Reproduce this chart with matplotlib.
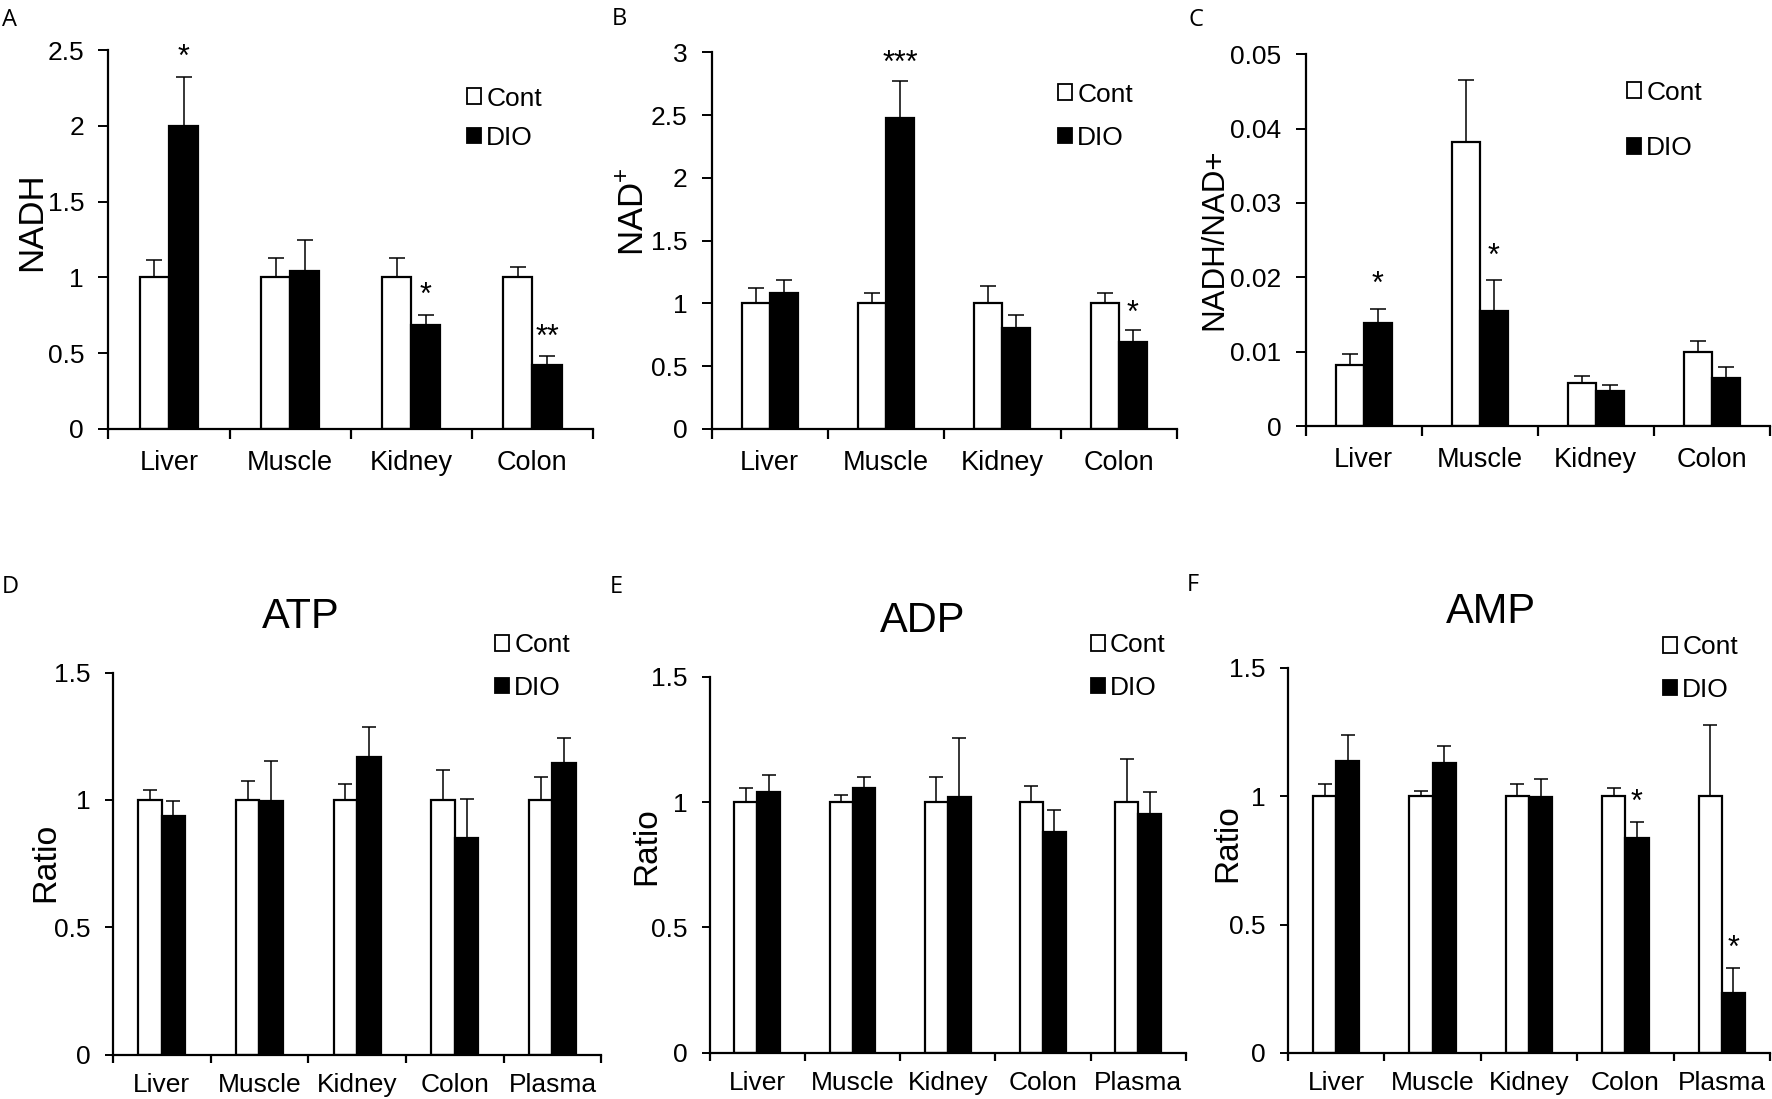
import matplotlib
matplotlib.use("Agg")
import matplotlib.pyplot as plt
from matplotlib.patches import Patch
from matplotlib.ticker import FuncFormatter, FixedLocator
import numpy as np

plt.rcParams['font.family'] = ['Liberation Sans', 'DejaVu Sans']
plt.rcParams['mathtext.fontset'] = 'custom'
plt.rcParams['mathtext.rm'] = 'Liberation Sans'
plt.rcParams['mathtext.it'] = 'Liberation Sans'

# ---------------- data ----------------
categories4 = ['Liver', 'Muscle', 'Kidney', 'Colon']
categories5 = ['Liver', 'Muscle', 'Kidney', 'Colon', 'Plasma']
series_names = ['Cont', 'DIO']

nadh_cont = [1.0, 1.0, 1.0, 1.0]
nadh_cont_err = [0.115, 0.13, 0.13, 0.07]
nadh_dio = [2.0, 1.045, 0.685, 0.42]
nadh_dio_err = [0.325, 0.20, 0.07, 0.06]
nadh_stars = ['*', '', '*', '**']

nad_cont = [1.0, 1.0, 1.0, 1.0]
nad_cont_err = [0.12, 0.08, 0.14, 0.08]
nad_dio = [1.08, 2.48, 0.805, 0.69]
nad_dio_err = [0.105, 0.295, 0.10, 0.10]
nad_stars = ['', '***', '', '*']

ratio_cont = [0.0082, 0.0382, 0.0058, 0.0100]
ratio_cont_err = [0.0015, 0.0083, 0.0009, 0.0014]
ratio_dio = [0.0138, 0.0155, 0.0047, 0.0065]
ratio_dio_err = [0.0020, 0.0041, 0.0008, 0.0014]
ratio_stars = ['*', '*', '', '']

atp_cont = [1.0, 1.0, 1.0, 1.0, 1.0]
atp_cont_err = [0.038, 0.074, 0.064, 0.117, 0.091]
atp_dio = [0.937, 0.997, 1.168, 0.852, 1.144]
atp_dio_err = [0.06, 0.155, 0.12, 0.15, 0.10]
atp_stars = ['', '', '', '', '']

adp_cont = [1.0, 1.0, 1.0, 1.0, 1.0]
adp_cont_err = [0.055, 0.028, 0.10, 0.063, 0.17]
adp_dio = [1.04, 1.056, 1.02, 0.882, 0.952]
adp_dio_err = [0.067, 0.043, 0.235, 0.086, 0.087]
adp_stars = ['', '', '', '', '']

amp_cont = [1.0, 1.0, 1.0, 1.0, 1.0]
amp_cont_err = [0.049, 0.022, 0.049, 0.031, 0.278]
amp_dio = [1.137, 1.128, 0.998, 0.837, 0.232]
amp_dio_err = [0.10, 0.067, 0.068, 0.061, 0.099]
amp_stars = ['', '', '', '*', '*']

# ---------------- layout ----------------
W, H = 1772, 1099
fig = plt.figure(figsize=(W / 100, H / 100), dpi=100)
fig.patch.set_facecolor('white')


def px_axes(left, right, top, bottom):
    return fig.add_axes([left / W, 1 - bottom / H, (right - left) / W, (bottom - top) / H])


panels = [
    dict(letter='A', letter_xy=(2, 8), box=(108.4, 593, 50, 429), cats=categories4,
         cont=nadh_cont, cerr=nadh_cont_err, dio=nadh_dio, derr=nadh_dio_err, stars=nadh_stars,
         ylim=2.5, yticks=[0, 0.5, 1, 1.5, 2, 2.5], ylabel='NADH', ylab_xy=(31.5, 222), ylab_fs=25,
         leg=(467, 99, 0.58), title=None, top=True, star_off=7.5),
    dict(letter='B', letter_xy=(612, 7), box=(711.6, 1176.8, 52.3, 429), cats=categories4,
         cont=nad_cont, cerr=nad_cont_err, dio=nad_dio, derr=nad_dio_err, stars=nad_stars,
         ylim=3.0, yticks=[0, 0.5, 1, 1.5, 2, 2.5, 3], ylabel=r'NAD$^{+}$', ylab_xy=(635, 212), ylab_fs=25,
         leg=(1058, 95, 0.74), title=None, top=True, star_off=6),
    dict(letter='C', letter_xy=(1189, 8), box=(1305.7, 1769.7, 54.3, 426), cats=categories4,
         cont=ratio_cont, cerr=ratio_cont_err, dio=ratio_dio, derr=ratio_dio_err, stars=ratio_stars,
         ylim=0.05, yticks=[0, 0.01, 0.02, 0.03, 0.04, 0.05], ylabel='NADH/NAD+', ylab_xy=(1214, 239), ylab_fs=22.5,
         leg=(1627, 93, 1.2), title=None, top=True, star_off=11),
    dict(letter='D', letter_xy=(2, 575), box=(112.9, 601.3, 672.6, 1054.7), cats=categories5,
         cont=atp_cont, cerr=atp_cont_err, dio=atp_dio, derr=atp_dio_err, stars=atp_stars,
         ylim=1.5, yticks=[0, 0.5, 1, 1.5], ylabel='Ratio', ylab_xy=(45.5, 862), ylab_fs=24.5,
         leg=(495, 646, 0.7), title=('ATP', 301), top=False, star_off=8),
    dict(letter='E', letter_xy=(610, 575), box=(709.7, 1185.7, 676.6, 1052.9), cats=categories5,
         cont=adp_cont, cerr=adp_cont_err, dio=adp_dio, derr=adp_dio_err, stars=adp_stars,
         ylim=1.5, yticks=[0, 0.5, 1, 1.5], ylabel='Ratio', ylab_xy=(647, 846), ylab_fs=24,
         leg=(1090.6, 646, 0.7), title=('ADP', 923), top=False, star_off=8),
    dict(letter='F', letter_xy=(1187, 573), box=(1288, 1770, 667.9, 1052.9), cats=categories5,
         cont=amp_cont, cerr=amp_cont_err, dio=amp_dio, derr=amp_dio_err, stars=amp_stars,
         ylim=1.5, yticks=[0, 0.5, 1, 1.5], ylabel='Ratio', ylab_xy=(1227.5, 843), ylab_fs=24,
         leg=(1663, 648, 0.7), title=('AMP', 1490.5), top=False, star_off=8),
]

bw = 0.24
for p in panels:
    left, right, top, bottom = p['box']
    ax = px_axes(left, right, top, bottom)
    n = len(p['cats'])
    x = np.arange(n)
    cap = 6 if p['top'] else 5
    ax.bar(x - bw / 2, p['cont'], bw, color='white', edgecolor='black', linewidth=1.6, zorder=2)
    ax.bar(x + bw / 2, p['dio'], bw, color='black', edgecolor='black', linewidth=1.6, zorder=2)
    zeros = np.zeros(n)
    ax.errorbar(x - bw / 2, p['cont'], yerr=[zeros, p['cerr']], fmt='none', ecolor='black',
                elinewidth=1.1, capsize=cap, capthick=1.1, zorder=3)
    ax.errorbar(x + bw / 2, p['dio'], yerr=[zeros, p['derr']], fmt='none', ecolor='black',
                elinewidth=1.1, capsize=cap, capthick=1.1, zorder=3)
    for i, s in enumerate(p['stars']):
        if s:
            ax.annotate(s, xy=(x[i] + bw / 2, p['dio'][i] + p['derr'][i]),
                        xytext=(0, p['star_off']), textcoords='offset points',
                        ha='center', va='baseline', fontsize=22, zorder=4)

    ax.set_xlim(-0.5, n - 0.5)
    ax.set_ylim(0, p['ylim'])
    for sp in ['top', 'right']:
        ax.spines[sp].set_visible(False)
    for sp in ['left', 'bottom']:
        ax.spines[sp].set_linewidth(1.6)

    xl_fs = 19.5 if p['top'] else 19
    tlen = 7.5 if p['top'] else 6
    ax.set_xticks(x)
    ax.set_xticklabels(p['cats'], fontsize=xl_fs)
    ax.xaxis.set_minor_locator(FixedLocator(np.arange(n + 1) - 0.5))
    ax.tick_params(axis='x', which='major', length=0, pad=15 if p['top'] else 13)
    ax.tick_params(axis='x', which='minor', length=tlen, width=1.6, direction='out')
    ax.set_yticks(p['yticks'])
    ax.yaxis.set_major_formatter(FuncFormatter(lambda v, pos: f'{v:g}'))
    ax.tick_params(axis='y', length=tlen, width=1.4, pad=10, labelsize=19, direction='out')

    ax.set_ylabel(p['ylabel'], fontsize=p['ylab_fs'], va='center', ha='center')
    ax.yaxis.set_label_coords(p['ylab_xy'][0] / W, 1 - p['ylab_xy'][1] / H, transform=fig.transFigure)

    if p['title']:
        t, tx = p['title']
        ax.set_title(t, fontsize=30, pad=32)
        ax.title.set_x((tx - left) / (right - left))

    lx, ly, lsp = p['leg']
    handles = [Patch(facecolor='white', edgecolor='black', linewidth=1.3),
               Patch(facecolor='black', edgecolor='black', linewidth=1.3)]
    ax.legend(handles, series_names, loc='upper left',
              bbox_to_anchor=(lx / W, 1 - (ly - 12.5) / H), bbox_transform=fig.transFigure,
              frameon=False, fontsize=19, borderpad=0, borderaxespad=0,
              handlelength=0.53, handleheight=0.53, handletextpad=0.2, labelspacing=lsp)

    fig.text(p['letter_xy'][0] / W, 1 - p['letter_xy'][1] / H, p['letter'],
             fontsize=17, family=['Open Sans', 'DejaVu Sans'], ha='left', va='top')

fig.savefig('out.png', dpi=100, facecolor='white')
